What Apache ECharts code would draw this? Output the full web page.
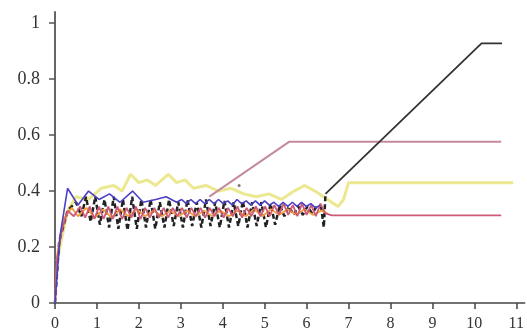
<!DOCTYPE html>
<html>
<head>
<meta charset="utf-8">
<script src="https://cdn.jsdelivr.net/npm/echarts@6/dist/echarts.min.js"></script>
<style>
html,body{margin:0;padding:0;background:#fff;}
#c{width:527px;height:332px;}
</style>
</head>
<body>
<div id="c"></div>
<script>
// tick labels
var xTicks = [0,1,2,3,4,5,6,7,8,9,10,11];
var yTicks = [0,0.2,0.4,0.6,0.8,1];

// series values: [x, y]
var yellowLine = [[0.05,0.15],[0.3,0.33],[0.5,0.38],[0.8,0.37],[1.1,0.41],[1.4,0.42],[1.6,0.40],[1.8,0.46],[2.0,0.43],[2.2,0.44],[2.4,0.42],[2.7,0.46],[2.9,0.43],[3.1,0.44],[3.3,0.41],[3.6,0.42],[3.9,0.40],[4.2,0.41],[4.5,0.39],[4.8,0.38],[5.1,0.39],[5.4,0.37],[5.7,0.40],[5.95,0.42],[6.2,0.40],[6.5,0.37],[6.75,0.345],[6.88,0.37],[7.0,0.43],[10.93,0.43]];

var pinkUpperLine = [[3.68,0.38],[5.58,0.576],[10.64,0.576]];

var orangeLine = [[0,0],[0.06,0.18],[0.2,0.30],[0.4,0.34],[0.55,0.31],[0.75,0.34],[0.95,0.305],[1.15,0.335],[1.35,0.305],[1.55,0.335],[1.75,0.31],[1.95,0.335],[2.15,0.31],[2.35,0.33],[2.55,0.31],[2.75,0.33],[2.95,0.31],[3.15,0.33],[3.35,0.31],[3.55,0.33],[3.75,0.31],[3.95,0.33],[4.15,0.31],[4.35,0.33],[4.55,0.31],[4.75,0.335],[4.95,0.31],[5.15,0.335],[5.35,0.315],[5.55,0.335],[5.75,0.315],[5.95,0.335],[6.15,0.315],[6.35,0.33],[6.5,0.32]];

var redLine = [[0,0],[0.05,0.16],[0.15,0.25],[0.3,0.33],[0.45,0.31],[0.6,0.345],[0.72,0.305],[0.83,0.345],[0.94,0.30],[1.05,0.345],[1.16,0.30],[1.27,0.345],[1.38,0.30],[1.49,0.345],[1.60,0.30],[1.71,0.34],[1.82,0.305],[1.93,0.345],[2.04,0.30],[2.15,0.34],[2.26,0.305],[2.37,0.34],[2.48,0.305],[2.59,0.34],[2.70,0.305],[2.81,0.34],[2.92,0.31],[3.03,0.34],[3.14,0.305],[3.25,0.34],[3.36,0.31],[3.47,0.34],[3.58,0.305],[3.69,0.34],[3.80,0.31],[3.91,0.34],[4.02,0.305],[4.13,0.34],[4.24,0.31],[4.35,0.345],[4.46,0.305],[4.57,0.34],[4.68,0.31],[4.79,0.345],[4.90,0.31],[5.01,0.345],[5.12,0.31],[5.23,0.35],[5.34,0.315],[5.45,0.355],[5.56,0.315],[5.67,0.35],[5.78,0.31],[5.89,0.355],[6.00,0.315],[6.11,0.35],[6.22,0.31],[6.33,0.355],[6.45,0.32],[6.6,0.313],[10.64,0.313]];

var blueLine = [[0,0],[0.12,0.24],[0.3,0.41],[0.55,0.35],[0.8,0.40],[1.05,0.37],[1.3,0.39],[1.55,0.36],[1.85,0.40],[2.1,0.36],[2.4,0.37],[2.65,0.38],[2.9,0.36],[3.02,0.37],[3.13,0.355],[3.24,0.37],[3.35,0.355],[3.46,0.37],[3.57,0.355],[3.68,0.37],[3.79,0.355],[3.90,0.37],[4.01,0.355],[4.12,0.365],[4.23,0.35],[4.34,0.37],[4.45,0.355],[4.56,0.365],[4.67,0.35],[4.78,0.365],[4.89,0.35],[5.00,0.365],[5.11,0.35],[5.22,0.36],[5.33,0.345],[5.44,0.36],[5.55,0.345],[5.66,0.36],[5.77,0.345],[5.88,0.36],[5.99,0.345],[6.10,0.355],[6.21,0.34],[6.32,0.35]];

var blackOscLine = [[0,0],[0.1,0.22],[0.3,0.33],[0.5,0.36],[0.63,0.31],[0.74,0.38],[0.85,0.29],[0.96,0.38],[1.07,0.28],[1.18,0.37],[1.29,0.27],[1.40,0.38],[1.51,0.265],[1.62,0.37],[1.73,0.26],[1.84,0.38],[1.95,0.265],[2.06,0.37],[2.17,0.27],[2.28,0.37],[2.39,0.265],[2.50,0.36],[2.61,0.27],[2.72,0.37],[2.83,0.275],[2.94,0.36],[3.05,0.27],[3.16,0.37],[3.27,0.275],[3.38,0.36],[3.49,0.27],[3.60,0.37],[3.71,0.275],[3.82,0.36],[3.93,0.27],[4.04,0.365],[4.15,0.27],[4.26,0.36],[4.37,0.275],[4.48,0.365],[4.59,0.27],[4.70,0.36],[4.81,0.275],[4.92,0.36],[5.03,0.27],[5.14,0.355],[5.25,0.28],[5.36,0.35],[5.47,0.31],[5.58,0.345],[5.69,0.315],[5.80,0.345],[5.91,0.315],[6.02,0.345],[6.13,0.32],[6.24,0.345],[6.35,0.34],[6.41,0.27],[6.45,0.39]];

var blackRiseLine = [[6.45,0.39],[10.17,0.928],[10.66,0.928]];

var strayDot = [[4.39,0.42]];

var chart = echarts.init(document.getElementById('c'), null, {renderer:'canvas'});
function lineSeries(name, data, color, width, type){
  return {name:name, type:'line', data:data, showSymbol:false, symbol:'none', silent:true,
    lineStyle:{color:color, width:width, type:type || 'solid'}};
}
chart.setOption({
  animation:false,
  grid:{left:55, right:0.5, top:12, bottom:28, containLabel:false},
  xAxis:{type:'value', min:0, max:11.2, interval:1,
    axisLine:{show:true, onZero:true, lineStyle:{color:'#444', width:1.5}},
    axisTick:{show:true, length:6, customValues:xTicks, lineStyle:{color:'#444', width:1.5}},
    axisLabel:{margin:13, customValues:xTicks, fontFamily:'Liberation Serif', fontSize:16, color:'#333'},
    splitLine:{show:false}},
  yAxis:{type:'value', min:0, max:1.04, interval:0.2,
    axisLine:{show:true, lineStyle:{color:'#666', width:2}},
    axisTick:{show:true, length:6, customValues:yTicks, lineStyle:{color:'#555', width:1.5}},
    axisLabel:{margin:15, customValues:yTicks, fontFamily:'Liberation Serif', fontSize:18, color:'#333'},
    splitLine:{show:false}},
  series:[
    lineSeries('yellow', yellowLine, '#ebe890', 3),
    lineSeries('pinkUpper', pinkUpperLine, '#c48a9e', 2),
    lineSeries('blackOsc', blackOscLine, '#222', 2.5, [5,3]),
    lineSeries('orange', orangeLine, '#f2a13c', 1.8),
    lineSeries('red', redLine, '#cf5a78', 1.8),
    lineSeries('blue', blueLine, '#4b3fc4', 1.6),
    lineSeries('blackRise', blackRiseLine, '#333', 1.8),
    {name:'dot', type:'scatter', data:strayDot, symbolSize:3, itemStyle:{color:'#555'}, silent:true}
  ]
});
</script>
</body>
</html>
